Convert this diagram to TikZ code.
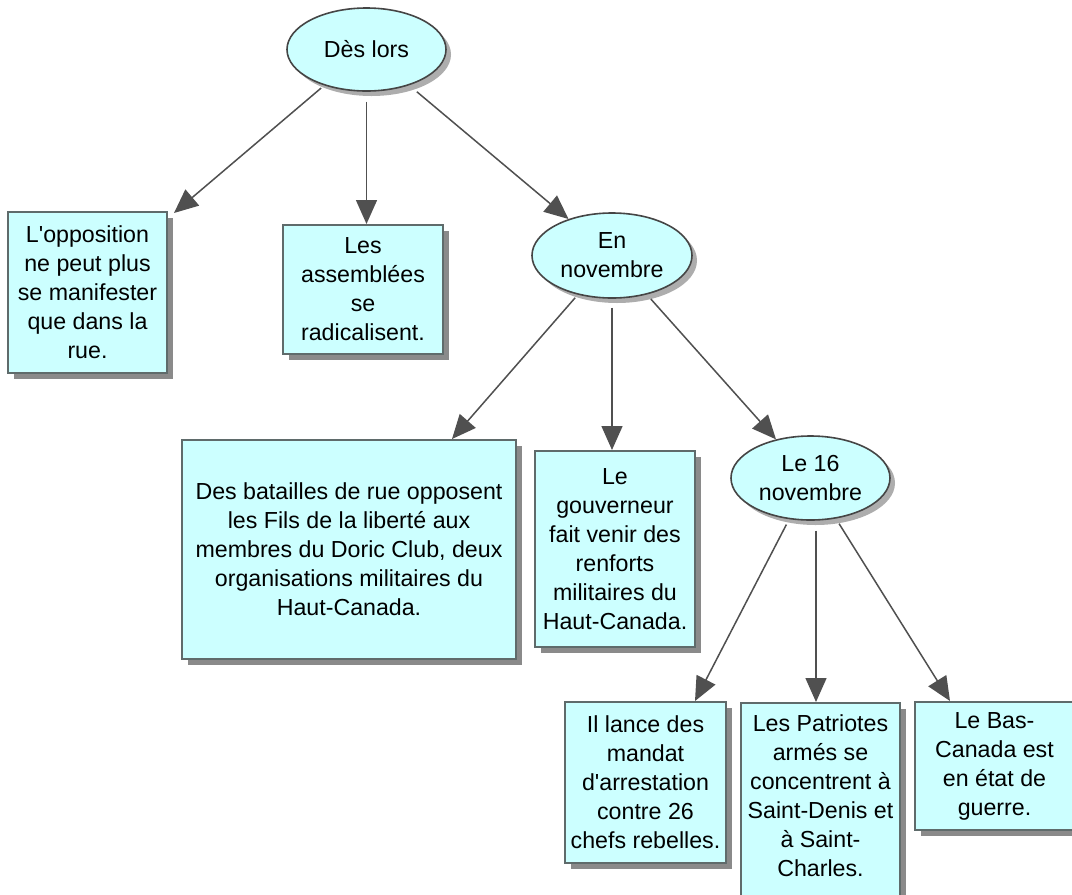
\documentclass[tikz,border=0pt]{standalone}
\usepackage{fontspec}
\setmainfont{Liberation Sans}[Ligatures=TeXOff]
\usetikzlibrary{shapes.geometric,arrows.meta,shadows,calc}
\definecolor{cfill}{HTML}{CCFFFF}
\definecolor{cbox}{HTML}{5F6B6B}
\definecolor{cell}{HTML}{454545}
\definecolor{cline}{HTML}{505050}
\definecolor{cshadow}{HTML}{8A8A8A}
\tikzset{
  box/.style={draw=cbox, line width=1pt, fill=cfill, rectangle, inner sep=0pt, align=center,
    drop shadow={shadow xshift=3pt, shadow yshift=-3pt, fill=cshadow, opacity=1}},
  oval/.style={draw=cell, line width=0.8pt, fill=cfill, ellipse, inner sep=0pt, align=center,
    drop shadow={shadow xshift=2.5pt, shadow yshift=-2.5pt, fill=cshadow!70, opacity=1}},
  txt/.style={align=center, inner sep=0pt},
  arr/.style={draw=cline, line width=0.75pt, -{Triangle[length=12pt, width=10.5pt]}, fill=cline},
}
\begin{document}
\begin{tikzpicture}[x=0.5pt, y=-0.5pt, font=\fontsize{11.6pt}{14.5pt}\selectfont]
\useasboundingbox (0,0) rectangle (1072,895);
\clip (0,0) rectangle (1072,895);
\fill[white] (0,0) rectangle (1072,895);

% ellipses
\node[oval, minimum width=79.5pt, minimum height=41.5pt] (e1) at (366.5,49.5) {Dès lors};
\node[oval, minimum width=80pt, minimum height=42.5pt] (e2) at (612,255.5) {En\\novembre};
\node[oval, minimum width=79.5pt, minimum height=42pt] (e3) at (810.5,478) {Le 16\\novembre};

% boxes
\node[box, minimum width=79.5pt, minimum height=80.5pt] (b1) at (87.5,292.5)
  {L'opposition\\ne peut plus\\se manifester\\que dans la\\rue.};
\node[box, minimum width=80pt, minimum height=64.5pt] (b2) at (363,289.5)
  {Les\\assemblées\\se\\radicalisent.};
\node[box, minimum width=167pt, minimum height=109.5pt] (b3) at (349,549.5)
  {Des batailles de rue opposent\\les Fils de la liberté aux\\membres du Doric Club, deux\\organisations militaires du\\Haut-Canada.};
\node[box, minimum width=80pt, minimum height=98pt] (b4) at (615,549)
  {Le\\gouverneur\\fait venir des\\renforts\\militaires du\\Haut-Canada.};
\node[box, minimum width=80.5pt, minimum height=80.5pt] (b5) at (645.5,782.5)
  {Il lance des\\mandat\\d'arrestation\\contre 26\\chefs rebelles.};
\node[box, minimum width=79.5pt, minimum height=101pt] (b6) at (820.5,804) {};
\node[txt] (b6t) at (820.5,795.5)
  {Les Patriotes\\armés se\\concentrent à\\Saint-Denis et\\à Saint-\\Charles.};
\node[box, minimum width=79.5pt, minimum height=64pt] (b7) at (994.5,766)
  {Le Bas-\\Canada est\\en état de\\guerre.};

% helper points
\coordinate (b6in) at ([xshift=-2.25pt]b6.north);
\coordinate (e3s) at ([yshift=-5pt]e3.south);

% connectors
\draw[arr, shorten <=2pt] (e1) -- ([xshift=3pt,yshift=-1pt]b1.north east);
\draw[arr] ([yshift=-5pt]e1.south) -- (e1.south |- b2.north);
\draw[arr, shorten <=5pt] (e1) -- (e2);
\draw[arr, shorten <=2pt] (e2) -- ([xshift=51.5pt]b3.north);
\draw[arr] ([yshift=-4.5pt]e2.south) -- (e2.south |- b4.north);
\draw[arr, shorten <=3pt] (e2) -- (e3);
\draw[arr, shorten <=3pt] (e3) -- ([xshift=24.75pt]b5.north);
\draw[arr] (e3s -| b6in) -- (b6in);
\draw[arr, shorten <=3pt] (e3) -- ([xshift=-22.25pt]b7.north);
\end{tikzpicture}
\end{document}
